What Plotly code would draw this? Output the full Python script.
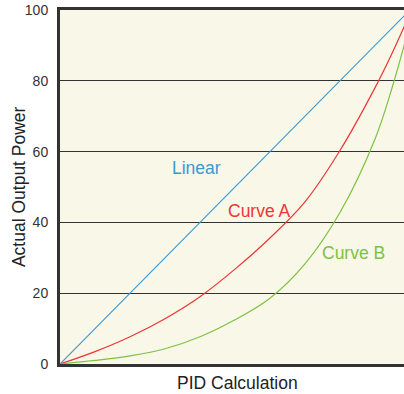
import plotly.graph_objects as go

# PID calculation (x) vs actual output power (y), in percent
pid_x = [0, 10, 20, 30, 40, 50, 60, 70, 80, 90, 95, 100]
linear = [0, 10, 20, 30, 40, 50, 60, 70, 80, 90, 95, 100]
curve_a = [0, 3.5, 7.7, 12.8, 19, 26.8, 35.6, 45.8, 60.3, 78, 88, 99]
curve_b = [0, 1.0, 2.3, 4.3, 7.7, 12.5, 18.6, 28.3, 42.8, 63.5, 78.4, 96]

y_ticks = [0, 20, 40, 60, 80, 100]

BLUE = "#3a99d3"
RED = "#ee3535"
GREEN = "#7cc243"
FONT = "Liberation Sans, Arial, sans-serif"

fig = go.Figure()
fig.add_trace(go.Scatter(x=pid_x, y=linear, mode="lines", name="Linear",
                         line=dict(color=BLUE, width=1.2)))
fig.add_trace(go.Scatter(x=pid_x, y=curve_a, mode="lines", name="Curve A",
                         line=dict(color=RED, width=1.2, shape="spline")))
fig.add_trace(go.Scatter(x=pid_x, y=curve_b, mode="lines", name="Curve B",
                         line=dict(color=GREEN, width=1.2, shape="spline")))

# in-plot series labels
for txt, x, y, c in [("Linear", 39, 55.4, BLUE),
                     ("Curve A", 56.9, 43.3, RED),
                     ("Curve B", 84, 31.4, GREEN)]:
    fig.add_annotation(x=x, y=y, text=txt, showarrow=False,
                       font=dict(size=17.5, color=c, family=FONT))

# axis titles
fig.add_annotation(xref="paper", yref="paper", x=0.515, y=-0.054,
                   xanchor="center", yanchor="middle",
                   text="PID Calculation", showarrow=False,
                   font=dict(size=17.5, color="#222", family=FONT))
fig.add_annotation(xref="paper", yref="paper", x=-0.119, y=0.5,
                   xanchor="center", yanchor="middle",
                   text="Actual Output Power", showarrow=False, textangle=-90,
                   font=dict(size=17.5, color="#222", family=FONT))

fig.update_layout(
    width=404, height=394,
    margin=dict(l=60, r=0, t=10, b=30),
    paper_bgcolor="white",
    plot_bgcolor="#f9f7e7",
    showlegend=False,
    font=dict(family=FONT, size=14, color="#333"),
)
fig.update_xaxes(range=[0, 98.3], showticklabels=False, showgrid=False,
                 zeroline=False, showline=True, linecolor="#333",
                 linewidth=3, mirror=True, ticks="")
fig.update_yaxes(range=[0, 100], tickvals=y_ticks, showgrid=True,
                 gridcolor="#333", gridwidth=1, zeroline=False,
                 showline=True, linecolor="#333", linewidth=3, ticks="",
                 ticklabelstandoff=6)

# drop the default page margin so the figure sits at the window's corner
fig.write_html(
    "out.html",
    config={"displayModeBar": False},
    post_script="document.body.style.margin='0';"
                "document.body.style.overflow='hidden';"
                "Plotly.Plots.resize(document.getElementById('{plot_id}'));",
)
